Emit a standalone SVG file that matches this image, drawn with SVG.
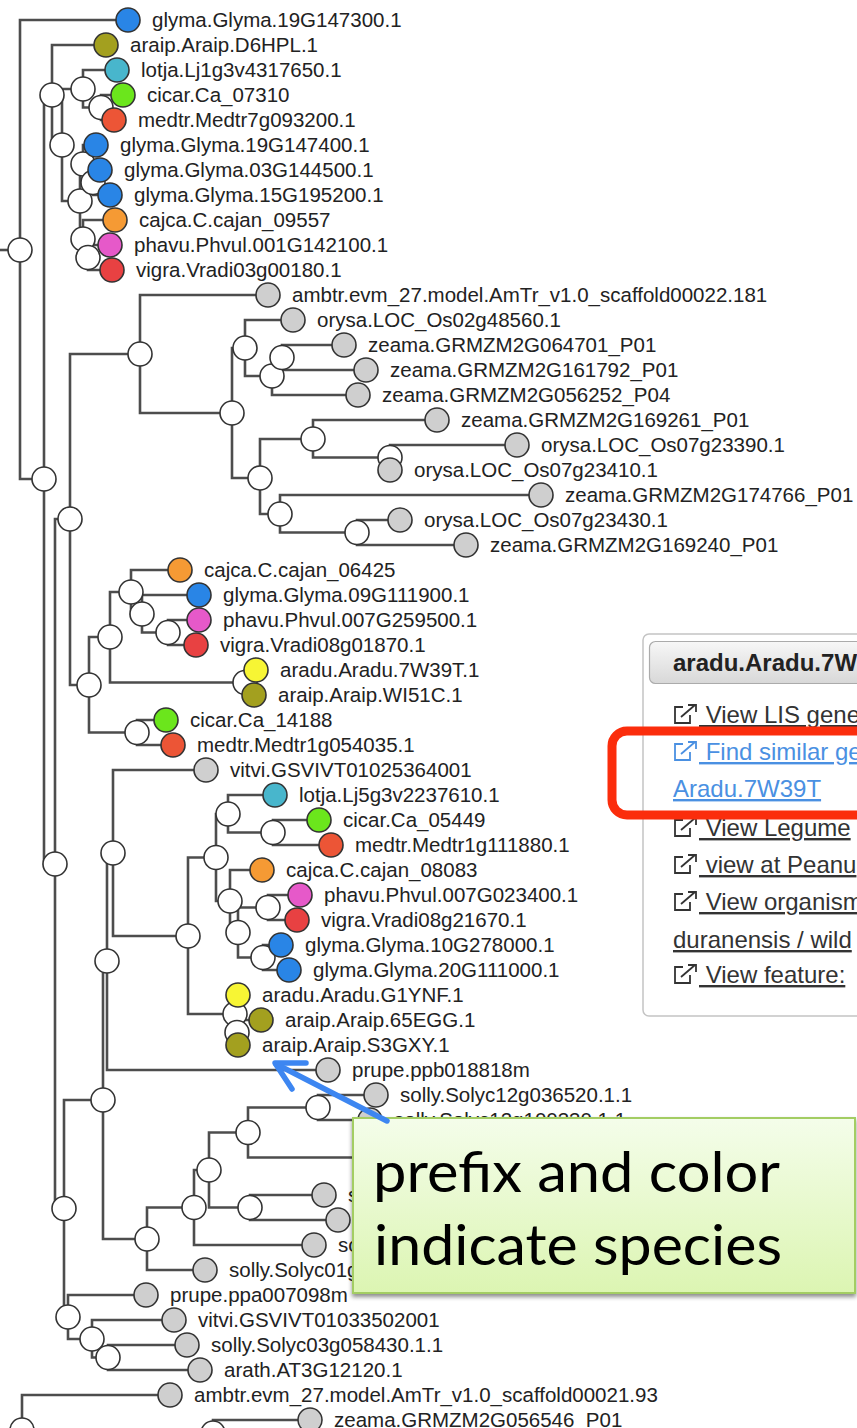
<svg xmlns="http://www.w3.org/2000/svg" width="857" height="1428" viewBox="0 0 857 1428">
<style>
.edges path{fill:none;stroke:#4d4d4d;stroke-width:2.6}
.node circle{stroke:#333;stroke-width:1.6}
.inner circle{fill:#fff}
.leaf circle{fill:#cfcfcf}
.leaf text{font-family:"Liberation Sans",Arial,Helvetica,sans-serif;font-size:20.5px;fill:#222}
.glyma circle{fill:#2985e6}
.araip circle{fill:#a3a01f}
.lotja circle{fill:#48b6cc}
.cicar circle{fill:#6be61c}
.medtr circle{fill:#ec5536}
.cajca circle{fill:#f59a34}
.phavu circle{fill:#e659c9}
.vigra circle{fill:#e84142}
.aradu circle{fill:#f7f534}
.menu text{font-family:"Liberation Sans",Arial,Helvetica,sans-serif;font-size:24px;fill:#333;text-decoration:underline}
.menu .link{fill:#4a90e2}
.hdr{font-family:"Liberation Sans",Arial,Helvetica,sans-serif;font-size:24px;font-weight:bold;fill:#222}
.note{font-family:Lato,"Open Sans",sans-serif;font-size:57px;fill:#000}
</style>
<defs>
<linearGradient id="hdrFill" x1="0" y1="0" x2="0" y2="1">
<stop offset="0" stop-color="#f7f7f7"/><stop offset="1" stop-color="#d8d8d8"/>
</linearGradient>
<linearGradient id="noteFill" x1="0" y1="0" x2="0" y2="1">
<stop offset="0" stop-color="#f4fdea"/><stop offset="1" stop-color="#dcf5b2"/>
</linearGradient>
<filter id="shadow" x="-10%" y="-10%" width="120%" height="130%">
<feDropShadow dx="0" dy="3" stdDeviation="2" flood-color="#000" flood-opacity="0.45"/>
</filter>
<!-- everything except the area under the callout box -->
<clipPath id="uncovered">
<path clip-rule="evenodd" d="M0 0 H857 V1428 H0 Z M353 1118 H857 V1293 H353 Z"/>
</clipPath>
<g id="ext" fill="none" stroke="currentColor" stroke-width="1.8">
<path d="M9 3 H1 V19 H16 V11"/>
<path d="M7 13 L21 1"/>
<path d="M14 1 H22 V8"/>
</g>
</defs>

<!-- branches: each runs from the parent centre, vertically to the child row, then across -->
<g id="connectors" class="edges">
<path d="M0 250 H20"/>
<path d="M0 1430 H22"/>
<path d="M20 250 V20 H128"/>
<path d="M20 250 V479 H44"/>
<path d="M44 479 V95 H52"/>
<path d="M44 479 V864 H55"/>
<path d="M52 95 V45 H106"/>
<path d="M52 95 V145 H62"/>
<path d="M62 145 V89 H83"/>
<path d="M62 145 V201 H80"/>
<path d="M83 89 V70 H117"/>
<path d="M83 89 V107.5 H101"/>
<path d="M101 107.5 V95 H123"/>
<path d="M101 107.5 V120 H114"/>
<path d="M80 201 V164 H83"/>
<path d="M80 201 V239 H83"/>
<path d="M83 164 V145 H96"/>
<path d="M83 164 V182.5 H93"/>
<path d="M93 182.5 V170 H100"/>
<path d="M93 182.5 V195 H110"/>
<path d="M83 239 V220 H115"/>
<path d="M83 239 V257.5 H88"/>
<path d="M88 257.5 V245 H110"/>
<path d="M88 257.5 V270 H112"/>
<path d="M55 864 V519 H70"/>
<path d="M55 864 V1208.5 H64"/>
<path d="M70 519 V354 H140"/>
<path d="M70 519 V685 H89"/>
<path d="M140 354 V295 H268"/>
<path d="M140 354 V413 H232"/>
<path d="M232 413 V348 H245"/>
<path d="M232 413 V478 H260"/>
<path d="M245 348 V320 H293"/>
<path d="M245 348 V376 H272"/>
<path d="M272 376 V357.5 H282"/>
<path d="M272 376 V395 H358"/>
<path d="M282 357.5 V345 H344"/>
<path d="M282 357.5 V370 H366"/>
<path d="M260 478 V439 H313"/>
<path d="M260 478 V514 H280"/>
<path d="M313 439 V420 H437"/>
<path d="M313 439 V457.5 H390"/>
<path d="M390 457.5 V445 H517"/>
<path d="M390 457.5 V470 H390"/>
<path d="M280 514 V495 H541"/>
<path d="M280 514 V532.5 H357"/>
<path d="M357 532.5 V520 H400"/>
<path d="M357 532.5 V545 H466"/>
<path d="M89 685 V637 H110"/>
<path d="M89 685 V732.5 H137"/>
<path d="M110 637 V592 H131"/>
<path d="M110 637 V682.5 H245"/>
<path d="M131 592 V570 H180"/>
<path d="M131 592 V614 H142"/>
<path d="M142 614 V595 H199"/>
<path d="M142 614 V632.5 H168"/>
<path d="M168 632.5 V620 H199"/>
<path d="M168 632.5 V645 H196"/>
<path d="M245 682.5 V670 H256"/>
<path d="M245 682.5 V695 H254"/>
<path d="M137 732.5 V720 H166"/>
<path d="M137 732.5 V745 H173"/>
<path d="M64 1208.5 V1100 H103"/>
<path d="M64 1208.5 V1317 H68"/>
<path d="M103 1100 V961 H107"/>
<path d="M103 1100 V1239 H147"/>
<path d="M107 961 V853 H113"/>
<path d="M107 961 V1070 H328"/>
<path d="M113 853 V770 H206"/>
<path d="M113 853 V936 H188"/>
<path d="M188 936 V857.5 H216"/>
<path d="M188 936 V1014 H235"/>
<path d="M216 857.5 V814 H228"/>
<path d="M216 857.5 V901 H230"/>
<path d="M228 814 V795 H275"/>
<path d="M228 814 V832.5 H273"/>
<path d="M273 832.5 V820 H319"/>
<path d="M273 832.5 V845 H331"/>
<path d="M230 901 V870 H262"/>
<path d="M230 901 V932.5 H238"/>
<path d="M238 932.5 V907.5 H268"/>
<path d="M238 932.5 V957.5 H263"/>
<path d="M268 907.5 V895 H300"/>
<path d="M268 907.5 V920 H297"/>
<path d="M263 957.5 V945 H281"/>
<path d="M263 957.5 V970 H289"/>
<path d="M235 1014 V995 H238"/>
<path d="M235 1014 V1032.5 H237"/>
<path d="M237 1032.5 V1020 H261"/>
<path d="M237 1032.5 V1045 H238"/>
<path d="M147 1239 V1207.5 H194"/>
<path d="M147 1239 V1270 H205"/>
<path d="M194 1207.5 V1170 H209"/>
<path d="M194 1207.5 V1245 H314"/>
<path d="M209 1170 V1132.5 H248"/>
<path d="M209 1170 V1207.5 H250"/>
<path d="M248 1132.5 V1107.5 H318"/>
<path d="M248 1132.5 V1157.5 H400"/>
<path d="M318 1107.5 V1095 H376"/>
<path d="M318 1107.5 V1120 H370"/>
<path d="M400 1157.5 V1145 H430"/>
<path d="M400 1157.5 V1170 H430"/>
<path d="M250 1207.5 V1195 H324"/>
<path d="M250 1207.5 V1220 H338"/>
<path d="M68 1317 V1295 H146"/>
<path d="M68 1317 V1339 H92"/>
<path d="M92 1339 V1320 H174"/>
<path d="M92 1339 V1357.5 H108"/>
<path d="M108 1357.5 V1345 H187"/>
<path d="M108 1357.5 V1370 H200"/>
<path d="M22 1430 V1395 H170"/>
<path d="M22 1430 V1433 H213"/>
<path d="M213 1433 V1420 H310"/>
</g>

<!-- internal nodes -->
<g id="n1" class="node inner"><circle cx="20" cy="250" r="12"/></g>
<g id="n2" class="node inner"><circle cx="44" cy="479" r="12"/></g>
<g id="n-a" class="node inner"><circle cx="52" cy="95" r="12"/></g>
<g id="n-b" class="node inner"><circle cx="62" cy="145" r="12"/></g>
<g id="n-c" class="node inner"><circle cx="83" cy="89" r="12"/></g>
<g id="n-c2" class="node inner"><circle cx="101" cy="107.5" r="12"/></g>
<g id="n-d" class="node inner"><circle cx="80" cy="201" r="12"/></g>
<g id="n-x" class="node inner"><circle cx="83" cy="164" r="12"/></g>
<g id="n-x2" class="node inner"><circle cx="93" cy="182.5" r="12"/></g>
<g id="n-y" class="node inner"><circle cx="83" cy="239" r="12"/></g>
<g id="n-y2" class="node inner"><circle cx="88" cy="257.5" r="12"/></g>
<g id="n9" class="node inner"><circle cx="55" cy="864" r="12"/></g>
<g id="n3" class="node inner"><circle cx="70" cy="519" r="12"/></g>
<g id="n4" class="node inner"><circle cx="140" cy="354" r="12"/></g>
<g id="m1" class="node inner"><circle cx="232" cy="413" r="12"/></g>
<g id="m2" class="node inner"><circle cx="245" cy="348" r="12"/></g>
<g id="m3" class="node inner"><circle cx="272" cy="376" r="12"/></g>
<g id="m4" class="node inner"><circle cx="282" cy="357.5" r="12"/></g>
<g id="m5" class="node inner"><circle cx="260" cy="478" r="12"/></g>
<g id="m6" class="node inner"><circle cx="313" cy="439" r="12"/></g>
<g id="m7" class="node inner"><circle cx="390" cy="457.5" r="12"/></g>
<g id="m8" class="node inner"><circle cx="280" cy="514" r="12"/></g>
<g id="m9" class="node inner"><circle cx="357" cy="532.5" r="12"/></g>
<g id="n7" class="node inner"><circle cx="89" cy="685" r="12"/></g>
<g id="n6" class="node inner"><circle cx="110" cy="637" r="12"/></g>
<g id="e1" class="node inner"><circle cx="131" cy="592" r="12"/></g>
<g id="e2" class="node inner"><circle cx="142" cy="614" r="12"/></g>
<g id="e3" class="node inner"><circle cx="168" cy="632.5" r="12"/></g>
<g id="e4" class="node inner"><circle cx="245" cy="682.5" r="12"/></g>
<g id="n8" class="node inner"><circle cx="137" cy="732.5" r="12"/></g>
<g id="n13" class="node inner"><circle cx="64" cy="1208.5" r="12"/></g>
<g id="n12" class="node inner"><circle cx="103" cy="1100" r="12"/></g>
<g id="n11" class="node inner"><circle cx="107" cy="961" r="12"/></g>
<g id="n10" class="node inner"><circle cx="113" cy="853" r="12"/></g>
<g id="r" class="node inner"><circle cx="188" cy="936" r="12"/></g>
<g id="f1" class="node inner"><circle cx="216" cy="857.5" r="12"/></g>
<g id="f2" class="node inner"><circle cx="228" cy="814" r="12"/></g>
<g id="f3" class="node inner"><circle cx="273" cy="832.5" r="12"/></g>
<g id="f4" class="node inner"><circle cx="230" cy="901" r="12"/></g>
<g id="f5" class="node inner"><circle cx="238" cy="932.5" r="12"/></g>
<g id="f6" class="node inner"><circle cx="268" cy="907.5" r="12"/></g>
<g id="f7" class="node inner"><circle cx="263" cy="957.5" r="12"/></g>
<g id="p" class="node inner"><circle cx="235" cy="1014" r="12"/></g>
<g id="q" class="node inner"><circle cx="237" cy="1032.5" r="12"/></g>
<g id="n14" class="node inner"><circle cx="147" cy="1239" r="12"/></g>
<g id="s6" class="node inner"><circle cx="194" cy="1207.5" r="12"/></g>
<g id="s5" class="node inner"><circle cx="209" cy="1170" r="12"/></g>
<g id="s3" class="node inner"><circle cx="248" cy="1132.5" r="12"/></g>
<g id="s1" class="node inner"><circle cx="318" cy="1107.5" r="12"/></g>
<g id="s2" class="node inner"><circle cx="400" cy="1157.5" r="12"/></g>
<g id="s4" class="node inner"><circle cx="250" cy="1207.5" r="12"/></g>
<g id="n15" class="node inner"><circle cx="68" cy="1317" r="12"/></g>
<g id="n16" class="node inner"><circle cx="92" cy="1339" r="12"/></g>
<g id="n17" class="node inner"><circle cx="108" cy="1357.5" r="12"/></g>
<g id="n18" class="node inner"><circle cx="22" cy="1430" r="12"/></g>
<g id="n19" class="node inner"><circle cx="213" cy="1433" r="12"/></g>

<!-- leaves -->
<g id="leaf-1" class="node leaf glyma"><circle cx="128" cy="20" r="12"/><text x="152" y="27">glyma.Glyma.19G147300.1</text></g>
<g id="leaf-2" class="node leaf araip"><circle cx="106" cy="45" r="12"/><text x="130" y="52">araip.Araip.D6HPL.1</text></g>
<g id="leaf-3" class="node leaf lotja"><circle cx="117" cy="70" r="12"/><text x="141" y="77">lotja.Lj1g3v4317650.1</text></g>
<g id="leaf-4" class="node leaf cicar"><circle cx="123" cy="95" r="12"/><text x="147" y="102">cicar.Ca_07310</text></g>
<g id="leaf-5" class="node leaf medtr"><circle cx="114" cy="120" r="12"/><text x="138" y="127">medtr.Medtr7g093200.1</text></g>
<g id="leaf-6" class="node leaf glyma"><circle cx="96" cy="145" r="12"/><text x="120" y="152">glyma.Glyma.19G147400.1</text></g>
<g id="leaf-7" class="node leaf glyma"><circle cx="100" cy="170" r="12"/><text x="124" y="177">glyma.Glyma.03G144500.1</text></g>
<g id="leaf-8" class="node leaf glyma"><circle cx="110" cy="195" r="12"/><text x="134" y="202">glyma.Glyma.15G195200.1</text></g>
<g id="leaf-9" class="node leaf cajca"><circle cx="115" cy="220" r="12"/><text x="139" y="227">cajca.C.cajan_09557</text></g>
<g id="leaf-10" class="node leaf phavu"><circle cx="110" cy="245" r="12"/><text x="134" y="252">phavu.Phvul.001G142100.1</text></g>
<g id="leaf-11" class="node leaf vigra"><circle cx="112" cy="270" r="12"/><text x="136" y="277">vigra.Vradi03g00180.1</text></g>
<g id="leaf-12" class="node leaf"><circle cx="268" cy="295" r="12"/><text x="292" y="302">ambtr.evm_27.model.AmTr_v1.0_scaffold00022.181</text></g>
<g id="leaf-13" class="node leaf"><circle cx="293" cy="320" r="12"/><text x="317" y="327">orysa.LOC_Os02g48560.1</text></g>
<g id="leaf-14" class="node leaf"><circle cx="344" cy="345" r="12"/><text x="368" y="352">zeama.GRMZM2G064701_P01</text></g>
<g id="leaf-15" class="node leaf"><circle cx="366" cy="370" r="12"/><text x="390" y="377">zeama.GRMZM2G161792_P01</text></g>
<g id="leaf-16" class="node leaf"><circle cx="358" cy="395" r="12"/><text x="382" y="402">zeama.GRMZM2G056252_P04</text></g>
<g id="leaf-17" class="node leaf"><circle cx="437" cy="420" r="12"/><text x="461" y="427">zeama.GRMZM2G169261_P01</text></g>
<g id="leaf-18" class="node leaf"><circle cx="517" cy="445" r="12"/><text x="541" y="452">orysa.LOC_Os07g23390.1</text></g>
<g id="leaf-19" class="node leaf"><circle cx="390" cy="470" r="12"/><text x="414" y="477">orysa.LOC_Os07g23410.1</text></g>
<g id="leaf-20" class="node leaf"><circle cx="541" cy="495" r="12"/><text x="565" y="502">zeama.GRMZM2G174766_P01</text></g>
<g id="leaf-21" class="node leaf"><circle cx="400" cy="520" r="12"/><text x="424" y="527">orysa.LOC_Os07g23430.1</text></g>
<g id="leaf-22" class="node leaf"><circle cx="466" cy="545" r="12"/><text x="490" y="552">zeama.GRMZM2G169240_P01</text></g>
<g id="leaf-23" class="node leaf cajca"><circle cx="180" cy="570" r="12"/><text x="204" y="577">cajca.C.cajan_06425</text></g>
<g id="leaf-24" class="node leaf glyma"><circle cx="199" cy="595" r="12"/><text x="223" y="602">glyma.Glyma.09G111900.1</text></g>
<g id="leaf-25" class="node leaf phavu"><circle cx="199" cy="620" r="12"/><text x="223" y="627">phavu.Phvul.007G259500.1</text></g>
<g id="leaf-26" class="node leaf vigra"><circle cx="196" cy="645" r="12"/><text x="220" y="652">vigra.Vradi08g01870.1</text></g>
<g id="leaf-27" class="node leaf aradu"><circle cx="256" cy="670" r="12"/><text x="280" y="677">aradu.Aradu.7W39T.1</text></g>
<g id="leaf-28" class="node leaf araip"><circle cx="254" cy="695" r="12"/><text x="278" y="702">araip.Araip.WI51C.1</text></g>
<g id="leaf-29" class="node leaf cicar"><circle cx="166" cy="720" r="12"/><text x="190" y="727">cicar.Ca_14188</text></g>
<g id="leaf-30" class="node leaf medtr"><circle cx="173" cy="745" r="12"/><text x="197" y="752">medtr.Medtr1g054035.1</text></g>
<g id="leaf-31" class="node leaf"><circle cx="206" cy="770" r="12"/><text x="230" y="777">vitvi.GSVIVT01025364001</text></g>
<g id="leaf-32" class="node leaf lotja"><circle cx="275" cy="795" r="12"/><text x="299" y="802">lotja.Lj5g3v2237610.1</text></g>
<g id="leaf-33" class="node leaf cicar"><circle cx="319" cy="820" r="12"/><text x="343" y="827">cicar.Ca_05449</text></g>
<g id="leaf-34" class="node leaf medtr"><circle cx="331" cy="845" r="12"/><text x="355" y="852">medtr.Medtr1g111880.1</text></g>
<g id="leaf-35" class="node leaf cajca"><circle cx="262" cy="870" r="12"/><text x="286" y="877">cajca.C.cajan_08083</text></g>
<g id="leaf-36" class="node leaf phavu"><circle cx="300" cy="895" r="12"/><text x="324" y="902">phavu.Phvul.007G023400.1</text></g>
<g id="leaf-37" class="node leaf vigra"><circle cx="297" cy="920" r="12"/><text x="321" y="927">vigra.Vradi08g21670.1</text></g>
<g id="leaf-38" class="node leaf glyma"><circle cx="281" cy="945" r="12"/><text x="305" y="952">glyma.Glyma.10G278000.1</text></g>
<g id="leaf-39" class="node leaf glyma"><circle cx="289" cy="970" r="12"/><text x="313" y="977">glyma.Glyma.20G111000.1</text></g>
<g id="leaf-40" class="node leaf aradu"><circle cx="238" cy="995" r="12"/><text x="262" y="1002">aradu.Aradu.G1YNF.1</text></g>
<g id="leaf-41" class="node leaf araip"><circle cx="261" cy="1020" r="12"/><text x="285" y="1027">araip.Araip.65EGG.1</text></g>
<g id="leaf-42" class="node leaf araip"><circle cx="238" cy="1045" r="12"/><text x="262" y="1052">araip.Araip.S3GXY.1</text></g>
<g id="leaf-43" class="node leaf"><circle cx="328" cy="1070" r="12"/><text x="352" y="1077">prupe.ppb018818m</text></g>
<g id="leaf-44" class="node leaf"><circle cx="376" cy="1095" r="12"/><text x="400" y="1102">solly.Solyc12g036520.1.1</text></g>
<g id="leaf-45" class="node leaf" clip-path="url(#uncovered)"><circle cx="370" cy="1120" r="12"/><text x="394" y="1127">solly.Solyc12g100330.1.1</text></g>
<g id="leaf-46" class="node leaf" clip-path="url(#uncovered)"><circle cx="430" cy="1145" r="12"/></g>
<g id="leaf-47" class="node leaf" clip-path="url(#uncovered)"><circle cx="430" cy="1170" r="12"/></g>
<g id="leaf-48" class="node leaf" clip-path="url(#uncovered)"><circle cx="324" cy="1195" r="12"/><text x="348" y="1202">s</text></g>
<g id="leaf-49" class="node leaf" clip-path="url(#uncovered)"><circle cx="338" cy="1220" r="12"/></g>
<g id="leaf-50" class="node leaf" clip-path="url(#uncovered)"><circle cx="314" cy="1245" r="12"/><text x="338" y="1252">so</text></g>
<g id="leaf-51" class="node leaf" clip-path="url(#uncovered)"><circle cx="205" cy="1270" r="12"/><text x="229" y="1277">solly.Solyc01g</text></g>
<g id="leaf-52" class="node leaf"><circle cx="146" cy="1295" r="12"/><text x="170" y="1302">prupe.ppa007098m</text></g>
<g id="leaf-53" class="node leaf"><circle cx="174" cy="1320" r="12"/><text x="198" y="1327">vitvi.GSVIVT01033502001</text></g>
<g id="leaf-54" class="node leaf"><circle cx="187" cy="1345" r="12"/><text x="211" y="1352">solly.Solyc03g058430.1.1</text></g>
<g id="leaf-55" class="node leaf"><circle cx="200" cy="1370" r="12"/><text x="224" y="1377">arath.AT3G12120.1</text></g>
<g id="leaf-56" class="node leaf"><circle cx="170" cy="1395" r="12"/><text x="194" y="1402">ambtr.evm_27.model.AmTr_v1.0_scaffold00021.93</text></g>
<g id="leaf-57" class="node leaf"><circle cx="310" cy="1420" r="12"/><text x="334" y="1427">zeama.GRMZM2G056546_P01</text></g>

<!-- gene popup menu -->
<g id="popup">
<rect x="643" y="634" width="240" height="382" rx="6" fill="#fff" stroke="#c4c4c4" stroke-width="1.5"/>
<rect x="649.5" y="641.5" width="230" height="42" rx="6" fill="url(#hdrFill)" stroke="#ababab" stroke-width="1.2"/>
<text class="hdr" x="673" y="671">aradu.Aradu.7W39T.1</text>
<g class="menu">
<use href="#ext" x="674" y="704" style="color:#333"/>
<text x="699" y="723">&#160;View LIS gene</text>
<use href="#ext" x="674" y="741" style="color:#4a90e2"/>
<text class="link" x="699" y="760">&#160;Find similar ge</text>
<text class="link" x="673" y="797">Aradu.7W39T</text>
<use href="#ext" x="674" y="817" style="color:#333"/>
<text x="699" y="836">&#160;View Legume</text>
<use href="#ext" x="674" y="854" style="color:#333"/>
<text x="699" y="873">&#160;view at Peanu</text>
<use href="#ext" x="674" y="891" style="color:#333"/>
<text x="699" y="910">&#160;View organism</text>
<text x="673" y="948">duranensis / wild</text>
<use href="#ext" x="674" y="964" style="color:#333"/>
<text x="699" y="983">&#160;View feature:</text>
</g>
<rect id="highlight" x="612" y="731" width="300" height="84" rx="15" fill="none" stroke="#fb2d0c" stroke-width="9"/>
</g>

<!-- annotation callout -->
<g id="callout">
<rect x="353" y="1118" width="502" height="175" fill="url(#noteFill)" stroke="#a3cd63" stroke-width="2" filter="url(#shadow)"/>
<text class="note" x="373" y="1192" textLength="407" lengthAdjust="spacingAndGlyphs">prefix and color</text>
<text class="note" x="374" y="1265" textLength="408" lengthAdjust="spacingAndGlyphs">indicate species</text>
</g>
<g id="pointer" fill="none" stroke="#3d86f1" stroke-width="5.5" stroke-linecap="round" stroke-linejoin="round">
<path d="M387 1121 L276 1064"/>
<path d="M306 1063 L275 1063 L292 1089"/>
</g>
</svg>
